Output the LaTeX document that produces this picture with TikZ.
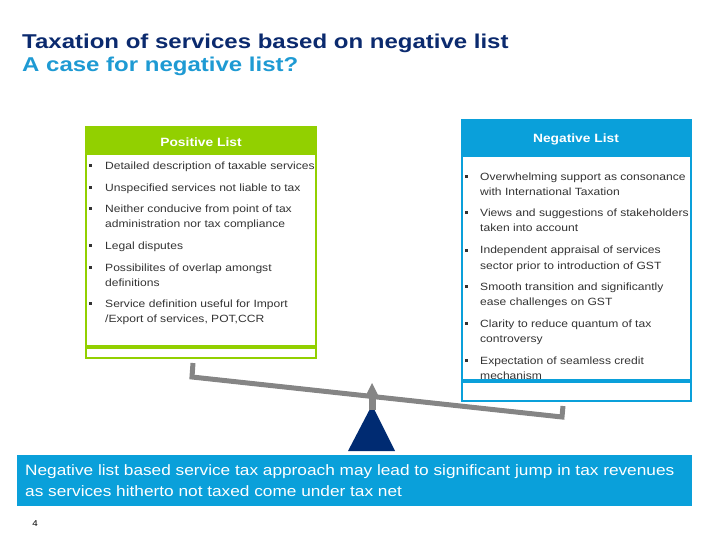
\documentclass[tikz,border=0pt]{standalone}
\usepackage{fontspec}
\setmainfont[FakeStretch=1.15]{Liberation Sans}
\newfontfamily\titlefont[FakeStretch=1.2]{Liberation Sans}
\definecolor{lime}{HTML}{92D000}
\definecolor{sky}{HTML}{0AA0DA}
\definecolor{navy}{HTML}{0B2A6E}
\definecolor{titleblue}{HTML}{1E9AD3}
\definecolor{txt}{HTML}{333333}
\definecolor{beam}{HTML}{858585}
\definecolor{trinavy}{HTML}{002B72}
\begin{document}
\begin{tikzpicture}[x=1pt,y=-1pt,
  titletext/.style={anchor=base west,inner sep=0,font=\titlefont\fontsize{20}{23}\selectfont\bfseries},
  headtext/.style={text=white,font=\fontsize{12}{14}\selectfont\bfseries,inner sep=0},
  itemtext/.style={anchor=north west,inner sep=0,text=txt,align=left,font=\fontsize{10.5}{15}\selectfont},
  bul/.style={fill=txt,minimum width=3pt,minimum height=3pt,inner sep=0,draw=none},
  bannertext/.style={anchor=north west,inner sep=0,text=white,align=left,font=\fontsize{15}{21}\selectfont}]
\useasboundingbox (0,0) rectangle (720,540);
% titles
\node[titletext,text=navy] (t1) at (22,49) {Taxation of services based on negative list};
\node[titletext,text=titleblue] (t2) at (22,72) {A case for negative list?};
% positive box
\fill[lime] (86,127) rectangle (316,155);
\draw[lime,line width=2pt] (86,127) rectangle (316,358);
\draw[lime,line width=3.5pt] (86,347) -- (316,347);
\node[headtext] (ph) at (201,142) {Positive List};
\foreach \y/\n/\t in {166/p1/{Detailed description of taxable services},
  188/p2/{Unspecified services not liable to tax},
  209/p3/{Neither conducive from point of tax\\administration nor tax compliance},
  245/p4/{Legal disputes},
  267/p5/{Possibilites of overlap amongst\\definitions},
  303/p6/{Service definition useful for Import\\/Export of services, POT,CCR}}{
  \node[bul] (\n b) at (90.5,\y) {};
  \node[itemtext] (\n) at (105,\y-6.7) {\strut\t};
}
% negative box
\fill[sky] (462,120) rectangle (691,157);
\draw[sky,line width=2pt] (462,120) rectangle (691,401);
\node[headtext] (nh) at (576,139) {Negative List};
\foreach \y/\n/\t in {177/n1/{Overwhelming support as consonance\\with International Taxation},
  213/n2/{Views and suggestions of stakeholders\\taken into account},
  250/n3/{Independent appraisal of services\\sector prior to introduction of GST},
  286/n4/{Smooth transition and significantly\\ease challenges on GST},
  323/n5/{Clarity to reduce quantum of tax\\controversy},
  360/n6/{Expectation of seamless credit\\mechanism}}{
  \node[bul] (\n b) at (466,\y) {};
  \node[itemtext] (\n) at (480,\y-6.7) {\strut\t};
}
\draw[sky,line width=4pt] (462,381) -- (692,381);
% seesaw
\coordinate (bl) at (193,363);
\coordinate (blc) at (192,377);
\coordinate (brc) at (562,417);
\coordinate (br) at (563,406);
\draw[beam,line width=5pt,line join=miter] (bl) -- (blc) -- (brc) -- (br);
\fill[trinavy] (348,451) -- (395,451) -- (372,405) -- cycle;
\fill[beam] (368.5,410) rectangle (375.5,394);
\fill[beam] (365.5,396) -- (372,383) -- (378.5,396) -- cycle;
% banner
\fill[sky] (17,455) rectangle (692,506);
\node[bannertext] (bt) at (25,461) {\strut Negative list based service tax approach may lead to significant jump in tax revenues\\as services hitherto not taxed come under tax net};
\node[anchor=base,inner sep=0,font=\fontsize{8.5}{9}\selectfont] (pg) at (35,526) {4};
\end{tikzpicture}
\end{document}
